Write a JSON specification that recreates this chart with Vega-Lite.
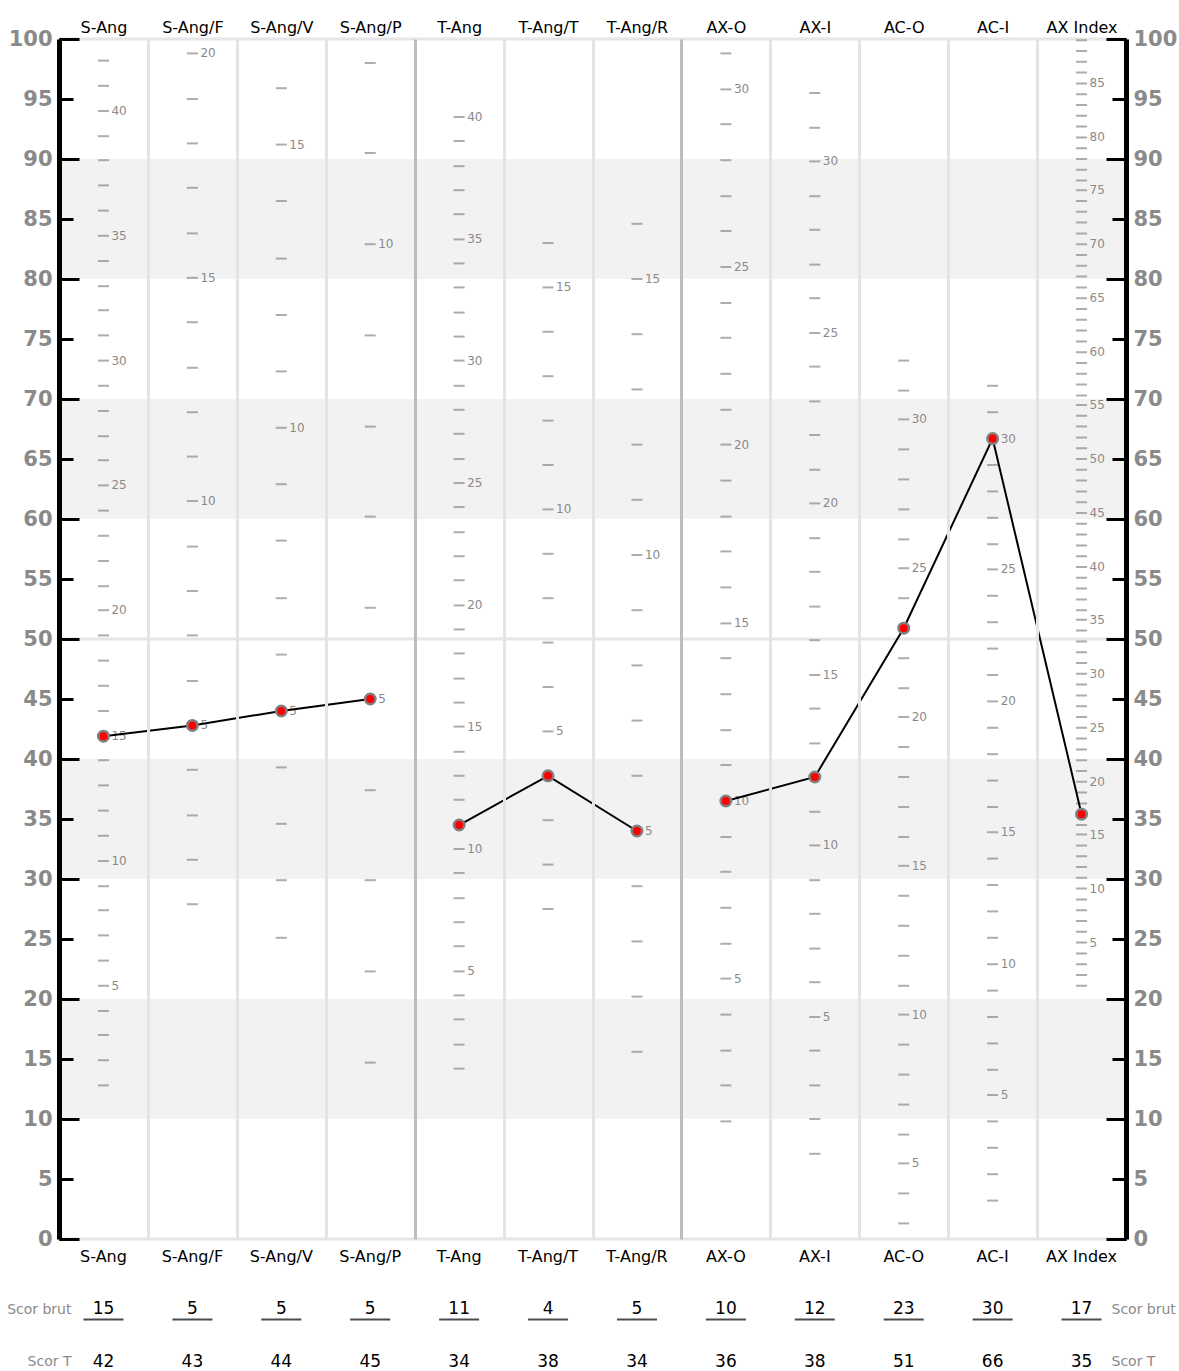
{
  "$schema": "https://vega.github.io/schema/vega-lite/v6.json",
  "padding": {"left": 6, "top": 19, "right": 0, "bottom": 0},
  "config": {"font": "DejaVu Sans", "view": {"stroke": null}},
  "spacing": 35,
  "datasets": {
    "bands": [{"lo": 10, "hi": 20}, {"lo": 30, "hi": 40}, {"lo": 60, "hi": 70}, {"lo": 80, "hi": 90}],
    "grid": [{"t": 0}, {"t": 50}, {"t": 100}],
    "pts": [
      {"c": "S-Ang", "i": 0, "g": "a", "r": 15, "t": 41.9},
      {"c": "S-Ang/F", "i": 1, "g": "a", "r": 5, "t": 42.8},
      {"c": "S-Ang/V", "i": 2, "g": "a", "r": 5, "t": 44.0},
      {"c": "S-Ang/P", "i": 3, "g": "a", "r": 5, "t": 45.0},
      {"c": "T-Ang", "i": 4, "g": "b", "r": 11, "t": 34.5},
      {"c": "T-Ang/T", "i": 5, "g": "b", "r": 4, "t": 38.6},
      {"c": "T-Ang/R", "i": 6, "g": "b", "r": 5, "t": 34.0},
      {"c": "AX-O", "i": 7, "g": "c", "r": 10, "t": 36.5},
      {"c": "AX-I", "i": 8, "g": "c", "r": 12, "t": 38.5},
      {"c": "AC-O", "i": 9, "g": "c", "r": 23, "t": 50.9},
      {"c": "AC-I", "i": 10, "g": "c", "r": 30, "t": 66.7},
      {"c": "AX Index", "i": 11, "g": "c", "r": 17, "t": 35.4}
    ],
    "table": [
      {"c": "S-Ang", "row": "Scor brut", "v": "15"}, {"c": "S-Ang", "row": "Scor T", "v": "42"},
      {"c": "S-Ang/F", "row": "Scor brut", "v": "5"}, {"c": "S-Ang/F", "row": "Scor T", "v": "43"},
      {"c": "S-Ang/V", "row": "Scor brut", "v": "5"}, {"c": "S-Ang/V", "row": "Scor T", "v": "44"},
      {"c": "S-Ang/P", "row": "Scor brut", "v": "5"}, {"c": "S-Ang/P", "row": "Scor T", "v": "45"},
      {"c": "T-Ang", "row": "Scor brut", "v": "11"}, {"c": "T-Ang", "row": "Scor T", "v": "34"},
      {"c": "T-Ang/T", "row": "Scor brut", "v": "4"}, {"c": "T-Ang/T", "row": "Scor T", "v": "38"},
      {"c": "T-Ang/R", "row": "Scor brut", "v": "5"}, {"c": "T-Ang/R", "row": "Scor T", "v": "34"},
      {"c": "AX-O", "row": "Scor brut", "v": "10"}, {"c": "AX-O", "row": "Scor T", "v": "36"},
      {"c": "AX-I", "row": "Scor brut", "v": "12"}, {"c": "AX-I", "row": "Scor T", "v": "38"},
      {"c": "AC-O", "row": "Scor brut", "v": "23"}, {"c": "AC-O", "row": "Scor T", "v": "51"},
      {"c": "AC-I", "row": "Scor brut", "v": "30"}, {"c": "AC-I", "row": "Scor T", "v": "66"},
      {"c": "AX Index", "row": "Scor brut", "v": "17"}, {"c": "AX Index", "row": "Scor T", "v": "35"}
    ],
    "scale": [
      {"c":"S-Ang","r":1,"t":12.8},{"c":"S-Ang","r":2,"t":14.9},{"c":"S-Ang","r":3,"t":17.0},{"c":"S-Ang","r":4,"t":19.0},{"c":"S-Ang","r":5,"t":21.1},{"c":"S-Ang","r":6,"t":23.2},{"c":"S-Ang","r":7,"t":25.3},{"c":"S-Ang","r":8,"t":27.4},{"c":"S-Ang","r":9,"t":29.4},{"c":"S-Ang","r":10,"t":31.5},{"c":"S-Ang","r":11,"t":33.6},{"c":"S-Ang","r":12,"t":35.7},{"c":"S-Ang","r":13,"t":37.8},{"c":"S-Ang","r":14,"t":39.9},{"c":"S-Ang","r":15,"t":41.9},{"c":"S-Ang","r":16,"t":44.0},{"c":"S-Ang","r":17,"t":46.1},{"c":"S-Ang","r":18,"t":48.2},{"c":"S-Ang","r":19,"t":50.3},{"c":"S-Ang","r":20,"t":52.4},{"c":"S-Ang","r":21,"t":54.4},{"c":"S-Ang","r":22,"t":56.5},{"c":"S-Ang","r":23,"t":58.6},{"c":"S-Ang","r":24,"t":60.7},{"c":"S-Ang","r":25,"t":62.8},{"c":"S-Ang","r":26,"t":64.9},{"c":"S-Ang","r":27,"t":66.9},{"c":"S-Ang","r":28,"t":69.0},{"c":"S-Ang","r":29,"t":71.1},{"c":"S-Ang","r":30,"t":73.2},{"c":"S-Ang","r":31,"t":75.3},{"c":"S-Ang","r":32,"t":77.4},{"c":"S-Ang","r":33,"t":79.4},{"c":"S-Ang","r":34,"t":81.5},{"c":"S-Ang","r":35,"t":83.6},{"c":"S-Ang","r":36,"t":85.7},{"c":"S-Ang","r":37,"t":87.8},{"c":"S-Ang","r":38,"t":89.9},{"c":"S-Ang","r":39,"t":91.9},{"c":"S-Ang","r":40,"t":94.0},{"c":"S-Ang","r":41,"t":96.1},{"c":"S-Ang","r":42,"t":98.2},
      {"c":"S-Ang/F","r":1,"t":27.9},{"c":"S-Ang/F","r":2,"t":31.6},{"c":"S-Ang/F","r":3,"t":35.3},{"c":"S-Ang/F","r":4,"t":39.1},{"c":"S-Ang/F","r":5,"t":42.8},{"c":"S-Ang/F","r":6,"t":46.5},{"c":"S-Ang/F","r":7,"t":50.3},{"c":"S-Ang/F","r":8,"t":54.0},{"c":"S-Ang/F","r":9,"t":57.7},{"c":"S-Ang/F","r":10,"t":61.5},{"c":"S-Ang/F","r":11,"t":65.2},{"c":"S-Ang/F","r":12,"t":68.9},{"c":"S-Ang/F","r":13,"t":72.6},{"c":"S-Ang/F","r":14,"t":76.4},{"c":"S-Ang/F","r":15,"t":80.1},{"c":"S-Ang/F","r":16,"t":83.8},{"c":"S-Ang/F","r":17,"t":87.6},{"c":"S-Ang/F","r":18,"t":91.3},{"c":"S-Ang/F","r":19,"t":95.0},{"c":"S-Ang/F","r":20,"t":98.8},
      {"c":"S-Ang/V","r":1,"t":25.1},{"c":"S-Ang/V","r":2,"t":29.9},{"c":"S-Ang/V","r":3,"t":34.6},{"c":"S-Ang/V","r":4,"t":39.3},{"c":"S-Ang/V","r":5,"t":44.0},{"c":"S-Ang/V","r":6,"t":48.7},{"c":"S-Ang/V","r":7,"t":53.4},{"c":"S-Ang/V","r":8,"t":58.2},{"c":"S-Ang/V","r":9,"t":62.9},{"c":"S-Ang/V","r":10,"t":67.6},{"c":"S-Ang/V","r":11,"t":72.3},{"c":"S-Ang/V","r":12,"t":77.0},{"c":"S-Ang/V","r":13,"t":81.7},{"c":"S-Ang/V","r":14,"t":86.5},{"c":"S-Ang/V","r":15,"t":91.2},{"c":"S-Ang/V","r":16,"t":95.9},
      {"c":"S-Ang/P","r":1,"t":14.7},{"c":"S-Ang/P","r":2,"t":22.3},{"c":"S-Ang/P","r":3,"t":29.9},{"c":"S-Ang/P","r":4,"t":37.4},{"c":"S-Ang/P","r":5,"t":45.0},{"c":"S-Ang/P","r":6,"t":52.6},{"c":"S-Ang/P","r":7,"t":60.2},{"c":"S-Ang/P","r":8,"t":67.7},{"c":"S-Ang/P","r":9,"t":75.3},{"c":"S-Ang/P","r":10,"t":82.9},{"c":"S-Ang/P","r":11,"t":90.5},{"c":"S-Ang/P","r":12,"t":98.0},
      {"c":"T-Ang","r":1,"t":14.2},{"c":"T-Ang","r":2,"t":16.2},{"c":"T-Ang","r":3,"t":18.3},{"c":"T-Ang","r":4,"t":20.3},{"c":"T-Ang","r":5,"t":22.3},{"c":"T-Ang","r":6,"t":24.4},{"c":"T-Ang","r":7,"t":26.4},{"c":"T-Ang","r":8,"t":28.4},{"c":"T-Ang","r":9,"t":30.5},{"c":"T-Ang","r":10,"t":32.5},{"c":"T-Ang","r":11,"t":34.5},{"c":"T-Ang","r":12,"t":36.6},{"c":"T-Ang","r":13,"t":38.6},{"c":"T-Ang","r":14,"t":40.6},{"c":"T-Ang","r":15,"t":42.7},{"c":"T-Ang","r":16,"t":44.7},{"c":"T-Ang","r":17,"t":46.7},{"c":"T-Ang","r":18,"t":48.8},{"c":"T-Ang","r":19,"t":50.8},{"c":"T-Ang","r":20,"t":52.8},{"c":"T-Ang","r":21,"t":54.9},{"c":"T-Ang","r":22,"t":56.9},{"c":"T-Ang","r":23,"t":58.9},{"c":"T-Ang","r":24,"t":61.0},{"c":"T-Ang","r":25,"t":63.0},{"c":"T-Ang","r":26,"t":65.0},{"c":"T-Ang","r":27,"t":67.1},{"c":"T-Ang","r":28,"t":69.1},{"c":"T-Ang","r":29,"t":71.1},{"c":"T-Ang","r":30,"t":73.2},{"c":"T-Ang","r":31,"t":75.2},{"c":"T-Ang","r":32,"t":77.2},{"c":"T-Ang","r":33,"t":79.3},{"c":"T-Ang","r":34,"t":81.3},{"c":"T-Ang","r":35,"t":83.3},{"c":"T-Ang","r":36,"t":85.4},{"c":"T-Ang","r":37,"t":87.4},{"c":"T-Ang","r":38,"t":89.4},{"c":"T-Ang","r":39,"t":91.5},{"c":"T-Ang","r":40,"t":93.5},
      {"c":"T-Ang/T","r":1,"t":27.5},{"c":"T-Ang/T","r":2,"t":31.2},{"c":"T-Ang/T","r":3,"t":34.9},{"c":"T-Ang/T","r":4,"t":38.6},{"c":"T-Ang/T","r":5,"t":42.3},{"c":"T-Ang/T","r":6,"t":46.0},{"c":"T-Ang/T","r":7,"t":49.7},{"c":"T-Ang/T","r":8,"t":53.4},{"c":"T-Ang/T","r":9,"t":57.1},{"c":"T-Ang/T","r":10,"t":60.8},{"c":"T-Ang/T","r":11,"t":64.5},{"c":"T-Ang/T","r":12,"t":68.2},{"c":"T-Ang/T","r":13,"t":71.9},{"c":"T-Ang/T","r":14,"t":75.6},{"c":"T-Ang/T","r":15,"t":79.3},{"c":"T-Ang/T","r":16,"t":83.0},
      {"c":"T-Ang/R","r":1,"t":15.6},{"c":"T-Ang/R","r":2,"t":20.2},{"c":"T-Ang/R","r":3,"t":24.8},{"c":"T-Ang/R","r":4,"t":29.4},{"c":"T-Ang/R","r":5,"t":34.0},{"c":"T-Ang/R","r":6,"t":38.6},{"c":"T-Ang/R","r":7,"t":43.2},{"c":"T-Ang/R","r":8,"t":47.8},{"c":"T-Ang/R","r":9,"t":52.4},{"c":"T-Ang/R","r":10,"t":57.0},{"c":"T-Ang/R","r":11,"t":61.6},{"c":"T-Ang/R","r":12,"t":66.2},{"c":"T-Ang/R","r":13,"t":70.8},{"c":"T-Ang/R","r":14,"t":75.4},{"c":"T-Ang/R","r":15,"t":80.0},{"c":"T-Ang/R","r":16,"t":84.6},
      {"c":"AX-O","r":1,"t":9.8},{"c":"AX-O","r":2,"t":12.8},{"c":"AX-O","r":3,"t":15.7},{"c":"AX-O","r":4,"t":18.7},{"c":"AX-O","r":5,"t":21.7},{"c":"AX-O","r":6,"t":24.6},{"c":"AX-O","r":7,"t":27.6},{"c":"AX-O","r":8,"t":30.6},{"c":"AX-O","r":9,"t":33.5},{"c":"AX-O","r":10,"t":36.5},{"c":"AX-O","r":11,"t":39.5},{"c":"AX-O","r":12,"t":42.4},{"c":"AX-O","r":13,"t":45.4},{"c":"AX-O","r":14,"t":48.4},{"c":"AX-O","r":15,"t":51.3},{"c":"AX-O","r":16,"t":54.3},{"c":"AX-O","r":17,"t":57.3},{"c":"AX-O","r":18,"t":60.2},{"c":"AX-O","r":19,"t":63.2},{"c":"AX-O","r":20,"t":66.2},{"c":"AX-O","r":21,"t":69.1},{"c":"AX-O","r":22,"t":72.1},{"c":"AX-O","r":23,"t":75.1},{"c":"AX-O","r":24,"t":78.0},{"c":"AX-O","r":25,"t":81.0},{"c":"AX-O","r":26,"t":84.0},{"c":"AX-O","r":27,"t":86.9},{"c":"AX-O","r":28,"t":89.9},{"c":"AX-O","r":29,"t":92.9},{"c":"AX-O","r":30,"t":95.8},{"c":"AX-O","r":31,"t":98.8},
      {"c":"AX-I","r":1,"t":7.1},{"c":"AX-I","r":2,"t":10.0},{"c":"AX-I","r":3,"t":12.8},{"c":"AX-I","r":4,"t":15.7},{"c":"AX-I","r":5,"t":18.5},{"c":"AX-I","r":6,"t":21.4},{"c":"AX-I","r":7,"t":24.2},{"c":"AX-I","r":8,"t":27.1},{"c":"AX-I","r":9,"t":29.9},{"c":"AX-I","r":10,"t":32.8},{"c":"AX-I","r":11,"t":35.6},{"c":"AX-I","r":12,"t":38.5},{"c":"AX-I","r":13,"t":41.3},{"c":"AX-I","r":14,"t":44.2},{"c":"AX-I","r":15,"t":47.0},{"c":"AX-I","r":16,"t":49.9},{"c":"AX-I","r":17,"t":52.7},{"c":"AX-I","r":18,"t":55.6},{"c":"AX-I","r":19,"t":58.4},{"c":"AX-I","r":20,"t":61.3},{"c":"AX-I","r":21,"t":64.1},{"c":"AX-I","r":22,"t":67.0},{"c":"AX-I","r":23,"t":69.8},{"c":"AX-I","r":24,"t":72.7},{"c":"AX-I","r":25,"t":75.5},{"c":"AX-I","r":26,"t":78.4},{"c":"AX-I","r":27,"t":81.2},{"c":"AX-I","r":28,"t":84.1},{"c":"AX-I","r":29,"t":86.9},{"c":"AX-I","r":30,"t":89.8},{"c":"AX-I","r":31,"t":92.6},{"c":"AX-I","r":32,"t":95.5},
      {"c":"AC-O","r":3,"t":1.3},{"c":"AC-O","r":4,"t":3.8},{"c":"AC-O","r":5,"t":6.3},{"c":"AC-O","r":6,"t":8.7},{"c":"AC-O","r":7,"t":11.2},{"c":"AC-O","r":8,"t":13.7},{"c":"AC-O","r":9,"t":16.2},{"c":"AC-O","r":10,"t":18.7},{"c":"AC-O","r":11,"t":21.1},{"c":"AC-O","r":12,"t":23.6},{"c":"AC-O","r":13,"t":26.1},{"c":"AC-O","r":14,"t":28.6},{"c":"AC-O","r":15,"t":31.1},{"c":"AC-O","r":16,"t":33.5},{"c":"AC-O","r":17,"t":36.0},{"c":"AC-O","r":18,"t":38.5},{"c":"AC-O","r":19,"t":41.0},{"c":"AC-O","r":20,"t":43.5},{"c":"AC-O","r":21,"t":45.9},{"c":"AC-O","r":22,"t":48.4},{"c":"AC-O","r":23,"t":50.9},{"c":"AC-O","r":24,"t":53.4},{"c":"AC-O","r":25,"t":55.9},{"c":"AC-O","r":26,"t":58.3},{"c":"AC-O","r":27,"t":60.8},{"c":"AC-O","r":28,"t":63.3},{"c":"AC-O","r":29,"t":65.8},{"c":"AC-O","r":30,"t":68.3},{"c":"AC-O","r":31,"t":70.7},{"c":"AC-O","r":32,"t":73.2},
      {"c":"AC-I","r":1,"t":3.2},{"c":"AC-I","r":2,"t":5.4},{"c":"AC-I","r":3,"t":7.6},{"c":"AC-I","r":4,"t":9.8},{"c":"AC-I","r":5,"t":12.0},{"c":"AC-I","r":6,"t":14.1},{"c":"AC-I","r":7,"t":16.3},{"c":"AC-I","r":8,"t":18.5},{"c":"AC-I","r":9,"t":20.7},{"c":"AC-I","r":10,"t":22.9},{"c":"AC-I","r":11,"t":25.1},{"c":"AC-I","r":12,"t":27.3},{"c":"AC-I","r":13,"t":29.5},{"c":"AC-I","r":14,"t":31.7},{"c":"AC-I","r":15,"t":33.9},{"c":"AC-I","r":16,"t":36.0},{"c":"AC-I","r":17,"t":38.2},{"c":"AC-I","r":18,"t":40.4},{"c":"AC-I","r":19,"t":42.6},{"c":"AC-I","r":20,"t":44.8},{"c":"AC-I","r":21,"t":47.0},{"c":"AC-I","r":22,"t":49.2},{"c":"AC-I","r":23,"t":51.4},{"c":"AC-I","r":24,"t":53.6},{"c":"AC-I","r":25,"t":55.8},{"c":"AC-I","r":26,"t":57.9},{"c":"AC-I","r":27,"t":60.1},{"c":"AC-I","r":28,"t":62.3},{"c":"AC-I","r":29,"t":64.5},{"c":"AC-I","r":30,"t":66.7},{"c":"AC-I","r":31,"t":68.9},{"c":"AC-I","r":32,"t":71.1},
      {"c":"AX Index","r":1,"t":21.1},{"c":"AX Index","r":2,"t":22.0},{"c":"AX Index","r":3,"t":22.9},{"c":"AX Index","r":4,"t":23.8},{"c":"AX Index","r":5,"t":24.7},{"c":"AX Index","r":6,"t":25.6},{"c":"AX Index","r":7,"t":26.5},{"c":"AX Index","r":8,"t":27.4},{"c":"AX Index","r":9,"t":28.3},{"c":"AX Index","r":10,"t":29.2},{"c":"AX Index","r":11,"t":30.1},{"c":"AX Index","r":12,"t":31.0},{"c":"AX Index","r":13,"t":31.9},{"c":"AX Index","r":14,"t":32.8},{"c":"AX Index","r":15,"t":33.7},{"c":"AX Index","r":16,"t":34.5},{"c":"AX Index","r":17,"t":35.4},{"c":"AX Index","r":18,"t":36.3},{"c":"AX Index","r":19,"t":37.2},{"c":"AX Index","r":20,"t":38.1},{"c":"AX Index","r":21,"t":39.0},{"c":"AX Index","r":22,"t":39.9},{"c":"AX Index","r":23,"t":40.8},{"c":"AX Index","r":24,"t":41.7},{"c":"AX Index","r":25,"t":42.6},{"c":"AX Index","r":26,"t":43.5},{"c":"AX Index","r":27,"t":44.4},{"c":"AX Index","r":28,"t":45.3},{"c":"AX Index","r":29,"t":46.2},{"c":"AX Index","r":30,"t":47.1},{"c":"AX Index","r":31,"t":48.0},{"c":"AX Index","r":32,"t":48.9},{"c":"AX Index","r":33,"t":49.8},{"c":"AX Index","r":34,"t":50.7},{"c":"AX Index","r":35,"t":51.6},{"c":"AX Index","r":36,"t":52.4},{"c":"AX Index","r":37,"t":53.3},{"c":"AX Index","r":38,"t":54.2},{"c":"AX Index","r":39,"t":55.1},{"c":"AX Index","r":40,"t":56.0},{"c":"AX Index","r":41,"t":56.9},{"c":"AX Index","r":42,"t":57.8},{"c":"AX Index","r":43,"t":58.7},{"c":"AX Index","r":44,"t":59.6},{"c":"AX Index","r":45,"t":60.5},{"c":"AX Index","r":46,"t":61.4},{"c":"AX Index","r":47,"t":62.3},{"c":"AX Index","r":48,"t":63.2},{"c":"AX Index","r":49,"t":64.1},{"c":"AX Index","r":50,"t":65.0},{"c":"AX Index","r":51,"t":65.9},{"c":"AX Index","r":52,"t":66.8},{"c":"AX Index","r":53,"t":67.7},{"c":"AX Index","r":54,"t":68.6},{"c":"AX Index","r":55,"t":69.5},{"c":"AX Index","r":56,"t":70.3},{"c":"AX Index","r":57,"t":71.2},{"c":"AX Index","r":58,"t":72.1},{"c":"AX Index","r":59,"t":73.0},{"c":"AX Index","r":60,"t":73.9},{"c":"AX Index","r":61,"t":74.8},{"c":"AX Index","r":62,"t":75.7},{"c":"AX Index","r":63,"t":76.6},{"c":"AX Index","r":64,"t":77.5},{"c":"AX Index","r":65,"t":78.4},{"c":"AX Index","r":66,"t":79.3},{"c":"AX Index","r":67,"t":80.2},{"c":"AX Index","r":68,"t":81.1},{"c":"AX Index","r":69,"t":82.0},{"c":"AX Index","r":70,"t":82.9},{"c":"AX Index","r":71,"t":83.8},{"c":"AX Index","r":72,"t":84.7},{"c":"AX Index","r":73,"t":85.6},{"c":"AX Index","r":74,"t":86.5},{"c":"AX Index","r":75,"t":87.4},{"c":"AX Index","r":76,"t":88.2},{"c":"AX Index","r":77,"t":89.1},{"c":"AX Index","r":78,"t":90.0},{"c":"AX Index","r":79,"t":90.9},{"c":"AX Index","r":80,"t":91.8},{"c":"AX Index","r":81,"t":92.7},{"c":"AX Index","r":82,"t":93.6},{"c":"AX Index","r":83,"t":94.5},{"c":"AX Index","r":84,"t":95.4},{"c":"AX Index","r":85,"t":96.3},{"c":"AX Index","r":86,"t":97.2},{"c":"AX Index","r":87,"t":98.1},{"c":"AX Index","r":88,"t":99.0},{"c":"AX Index","r":89,"t":99.9}
    ]
  },
  "vconcat": [
    {
      "width": 1067,
      "height": 1200,
      "resolve": {"axis": {"x": "independent", "y": "independent"}},
      "layer": [
        {
          "data": {"name": "bands"},
          "mark": {"type": "rect", "color": "#f2f2f2"},
          "encoding": {
            "y": {"field": "lo", "type": "quantitative", "scale": {"domain": [0, 100], "nice": false, "zero": false},
              "axis": {"orient": "left", "values": [0,5,10,15,20,25,30,35,40,45,50,55,60,65,70,75,80,85,90,95,100], "title": null, "grid": false, "domainColor": "black", "domainWidth": 5, "tickColor": "black", "tickWidth": 3, "tickSize": -14, "labelFontSize": 21, "labelFontWeight": "bold", "labelColor": "#8a8a8a", "labelPadding": 21, "zindex": 2}},
            "y2": {"field": "hi"}
          }
        },
        {
          "data": {"name": "grid"},
          "mark": {"type": "rule", "color": "#e6e6e6", "strokeWidth": 3},
          "encoding": {
            "y": {"field": "t", "type": "quantitative", "scale": {"domain": [0, 100], "nice": false, "zero": false},
              "axis": {"orient": "left", "values": [0,10,20,30,40,50,60,70,80,90,100], "title": null, "grid": false, "domain": false, "labels": false, "tickColor": "black", "tickWidth": 3, "tickSize": -20, "zindex": 2}}
          }
        },
        {
          "data": {"name": "scale"},
          "mark": {"type": "tick", "orient": "horizontal", "color": "#8a8a8a", "size": 11, "thickness": 2},
          "encoding": {
            "x": {"field": "c", "type": "nominal", "sort": null,
              "scale": {"type": "band", "domain": ["S-Ang","S-Ang/F","S-Ang/V","S-Ang/P","T-Ang","T-Ang/T","T-Ang/R","AX-O","AX-I","AC-O","AC-I","AX Index"], "paddingInner": 0, "paddingOuter": 0},
              "axis": {"orient": "top", "title": null, "domain": false, "ticks": false, "labelAngle": 0, "labelFontSize": 16, "labelColor": "black", "labelPadding": 4, "grid": true, "tickBand": "extent", "gridWidth": 3,
                "gridColor": {"condition": {"test": "datum.value === 'S-Ang/P' || datum.value === 'T-Ang/R'", "value": "#bdbdbd"}, "value": "#e4e4e4"}, "zindex": 1}},
            "y": {"field": "t", "type": "quantitative", "scale": {"domain": [0, 100], "nice": false, "zero": false},
              "axis": {"orient": "right", "values": [0,5,10,15,20,25,30,35,40,45,50,55,60,65,70,75,80,85,90,95,100], "title": null, "grid": false, "domainColor": "black", "domainWidth": 5, "tickColor": "black", "tickWidth": 3, "tickSize": -14, "labelFontSize": 21, "labelFontWeight": "bold", "labelColor": "#8a8a8a", "labelPadding": 21, "zindex": 2}}
          }
        },
        {
          "data": {"name": "scale"},
          "transform": [{"filter": "datum.r % 5 === 0"}],
          "mark": {"type": "text", "align": "left", "baseline": "middle", "dx": 8, "fontSize": 12, "color": "#8a8a8a"},
          "encoding": {
            "x": {"field": "c", "type": "nominal", "sort": null,
              "scale": {"type": "band", "domain": ["S-Ang","S-Ang/F","S-Ang/V","S-Ang/P","T-Ang","T-Ang/T","T-Ang/R","AX-O","AX-I","AC-O","AC-I","AX Index"], "paddingInner": 0, "paddingOuter": 0},
              "axis": {"orient": "bottom", "title": null, "domain": false, "ticks": false, "grid": false, "labelAngle": 0, "labelFontSize": 16, "labelColor": "black", "labelPadding": 9}},
            "y": {"field": "t", "type": "quantitative", "scale": {"domain": [0, 100], "nice": false, "zero": false}, "axis": null},
            "text": {"field": "r", "type": "quantitative"}
          }
        },
        {
          "data": {"name": "pts"},
          "mark": {"type": "line", "color": "black", "strokeWidth": 2},
          "encoding": {
            "x": {"field": "c", "type": "nominal", "sort": null,
              "scale": {"type": "band", "domain": ["S-Ang","S-Ang/F","S-Ang/V","S-Ang/P","T-Ang","T-Ang/T","T-Ang/R","AX-O","AX-I","AC-O","AC-I","AX Index"], "paddingInner": 0, "paddingOuter": 0}, "axis": null},
            "y": {"field": "t", "type": "quantitative", "scale": {"domain": [0, 100], "nice": false, "zero": false}, "axis": null},
            "detail": {"field": "g"},
            "order": {"field": "i", "type": "quantitative"}
          }
        },
        {
          "data": {"name": "pts"},
          "mark": {"type": "point", "filled": true, "fill": "#ff0000", "stroke": "#808080", "strokeWidth": 2.5, "size": 110, "opacity": 1},
          "encoding": {
            "x": {"field": "c", "type": "nominal", "sort": null,
              "scale": {"type": "band", "domain": ["S-Ang","S-Ang/F","S-Ang/V","S-Ang/P","T-Ang","T-Ang/T","T-Ang/R","AX-O","AX-I","AC-O","AC-I","AX Index"], "paddingInner": 0, "paddingOuter": 0}, "axis": null},
            "y": {"field": "t", "type": "quantitative", "scale": {"domain": [0, 100], "nice": false, "zero": false},
              "axis": {"orient": "right", "values": [0,10,20,30,40,50,60,70,80,90,100], "title": null, "grid": false, "domain": false, "labels": false, "tickColor": "black", "tickWidth": 3, "tickSize": -20, "zindex": 2}}
          }
        }
      ]
    },
    {
      "width": 1067,
      "height": 73,
      "data": {"name": "table"},
      "resolve": {"axis": {"y": "independent"}},
      "layer": [
        {
          "mark": {"type": "text", "fontSize": 17, "color": "black", "baseline": "middle"},
          "encoding": {
            "x": {"field": "c", "type": "nominal", "sort": null,
              "scale": {"type": "band", "domain": ["S-Ang","S-Ang/F","S-Ang/V","S-Ang/P","T-Ang","T-Ang/T","T-Ang/R","AX-O","AX-I","AC-O","AC-I","AX Index"], "paddingInner": 0, "paddingOuter": 0}, "axis": null},
            "y": {"field": "row", "type": "nominal", "sort": null, "scale": {"type": "point", "domain": ["Scor brut", "Scor T"], "padding": 0.2},
              "axis": {"orient": "left", "title": null, "domain": false, "ticks": false, "labelFontSize": 14, "labelColor": "#8a8a8a", "offset": -12, "labelPadding": 0}},
            "text": {"field": "v"}
          }
        },
        {
          "transform": [{"filter": "datum.row === 'Scor brut'"}],
          "mark": {"type": "tick", "orient": "horizontal", "color": "black", "size": 40, "thickness": 2, "yOffset": 10},
          "encoding": {
            "x": {"field": "c", "type": "nominal", "sort": null,
              "scale": {"type": "band", "domain": ["S-Ang","S-Ang/F","S-Ang/V","S-Ang/P","T-Ang","T-Ang/T","T-Ang/R","AX-O","AX-I","AC-O","AC-I","AX Index"], "paddingInner": 0, "paddingOuter": 0}, "axis": null},
            "y": {"field": "row", "type": "nominal", "sort": null, "scale": {"type": "point", "domain": ["Scor brut", "Scor T"], "padding": 0.2},
              "axis": {"orient": "right", "title": null, "domain": false, "ticks": false, "labelFontSize": 14, "labelColor": "#8a8a8a", "offset": -15, "labelPadding": 0}}
          }
        }
      ]
    }
  ]
}
